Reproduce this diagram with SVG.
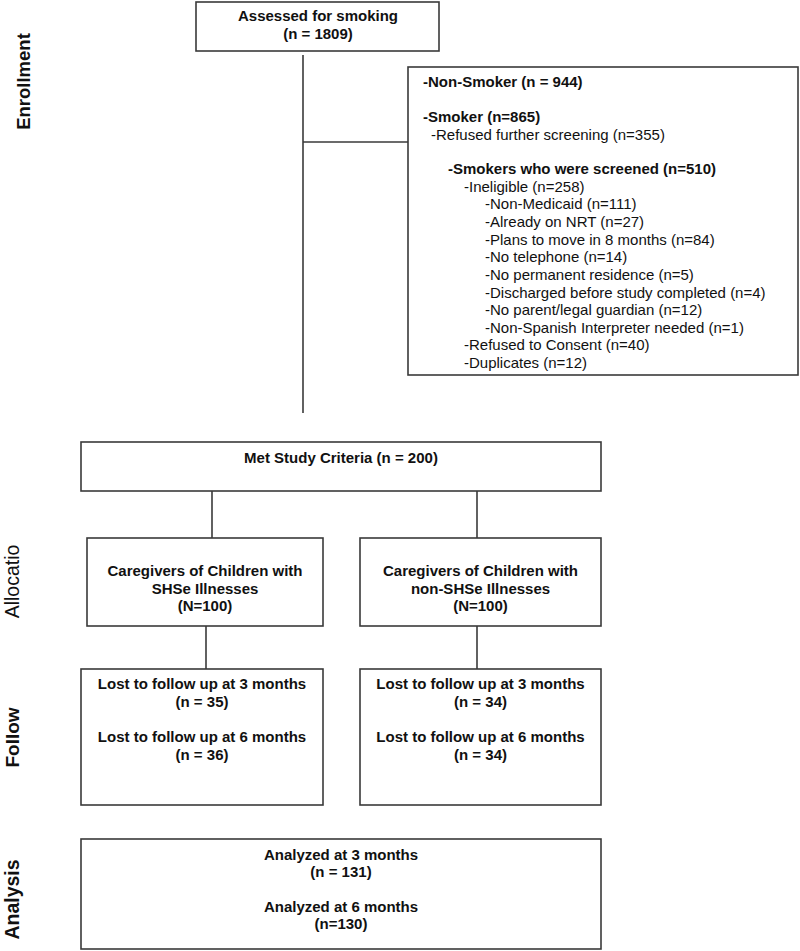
<svg xmlns="http://www.w3.org/2000/svg" width="800" height="951" viewBox="0 0 800 951">
<style>
  .box { fill: #ffffff; stroke: #3a3a3a; stroke-width: 1.6; }
  .ln { stroke: #3a3a3a; stroke-width: 1.6; fill: none; }
  text { font-family: "Liberation Sans", Arial, sans-serif; fill: #111111; }
  .b { font-weight: bold; font-size: 15px; }
  .r { font-size: 15px; }
  .c { text-anchor: middle; }
  .side { font-weight: bold; text-anchor: middle; }
</style>
<rect width="800" height="951" fill="#ffffff"/>

<g id="labels">
  <text class="side" font-size="18.5" transform="translate(30,81.5) rotate(-90)">Enrollment</text>
  <text text-anchor="middle" font-size="19.5" transform="translate(19,581.5) rotate(-90)">Allocatio</text>
  <text class="side" font-size="19" transform="translate(19,737.5) rotate(-90)">Follow</text>
  <text class="side" font-size="19.5" transform="translate(19,899.5) rotate(-90)">Analysis</text>
</g>

<g id="connectors">
  <line class="ln" x1="303" y1="55" x2="303" y2="413"/>
  <line class="ln" x1="303" y1="142" x2="408" y2="142"/>
  <line class="ln" x1="212" y1="491" x2="212" y2="538"/>
  <line class="ln" x1="477" y1="491" x2="477" y2="538"/>
  <line class="ln" x1="206" y1="626" x2="206" y2="669"/>
  <line class="ln" x1="477" y1="626" x2="477" y2="669"/>
</g>

<g id="assessed">
  <rect class="box" x="196" y="2" width="243" height="49"/>
  <text class="b c" x="318" y="21">Assessed for smoking</text>
  <text class="b c" x="318" y="39">(n = 1809)</text>
</g>

<g id="excluded">
  <rect class="box" x="408" y="67" width="390" height="308"/>
  <text class="b" x="423" y="87">-Non-Smoker (n = 944)</text>
  <text class="b" x="423" y="122">-Smoker (n=865)</text>
  <text class="r" x="431" y="140">-Refused further screening (n=355)</text>
  <text class="b" x="448" y="174">-Smokers who were screened (n=510)</text>
  <text class="r" x="464" y="192">-Ineligible (n=258)</text>
  <text class="r" x="485" y="209">-Non-Medicaid (n=111)</text>
  <text class="r" x="485" y="227">-Already on NRT (n=27)</text>
  <text class="r" x="485" y="244.5">-Plans to move in 8 months (n=84)</text>
  <text class="r" x="485" y="262">-No telephone (n=14)</text>
  <text class="r" x="485" y="280">-No permanent residence (n=5)</text>
  <text class="r" x="485" y="297.5">-Discharged before study completed (n=4)</text>
  <text class="r" x="485" y="315">-No parent/legal guardian (n=12)</text>
  <text class="r" x="485" y="332.5">-Non-Spanish Interpreter needed (n=1)</text>
  <text class="r" x="464" y="350">-Refused to Consent (n=40)</text>
  <text class="r" x="464" y="367.5">-Duplicates (n=12)</text>
</g>

<g id="met">
  <rect class="box" x="81" y="442" width="520" height="49"/>
  <text class="b c" x="341" y="463">Met Study Criteria (n = 200)</text>
</g>

<g id="alloc-shse">
  <rect class="box" x="87" y="538" width="236" height="88"/>
  <text class="b c" x="205" y="576">Caregivers of Children with</text>
  <text class="b c" x="205" y="593.5">SHSe Illnesses</text>
  <text class="b c" x="205" y="611">(N=100)</text>
</g>

<g id="alloc-non">
  <rect class="box" x="360" y="538" width="241" height="88"/>
  <text class="b c" x="480.5" y="576">Caregivers of Children with</text>
  <text class="b c" x="480.5" y="593.5">non-SHSe Illnesses</text>
  <text class="b c" x="480.5" y="611">(N=100)</text>
</g>

<g id="follow-shse">
  <rect class="box" x="81" y="669" width="242" height="136"/>
  <text class="b c" x="202" y="689">Lost to follow up at 3 months</text>
  <text class="b c" x="202" y="707">(n = 35)</text>
  <text class="b c" x="202" y="742">Lost to follow up at 6 months</text>
  <text class="b c" x="202" y="760">(n = 36)</text>
</g>

<g id="follow-non">
  <rect class="box" x="360" y="669" width="241" height="136"/>
  <text class="b c" x="480.5" y="689">Lost to follow up at 3 months</text>
  <text class="b c" x="480.5" y="707">(n = 34)</text>
  <text class="b c" x="480.5" y="742">Lost to follow up at 6 months</text>
  <text class="b c" x="480.5" y="760">(n = 34)</text>
</g>

<g id="analysis">
  <rect class="box" x="81" y="839" width="520" height="110"/>
  <text class="b c" x="341" y="860">Analyzed at 3 months</text>
  <text class="b c" x="341" y="877">(n = 131)</text>
  <text class="b c" x="341" y="912">Analyzed at 6 months</text>
  <text class="b c" x="341" y="929">(n=130)</text>
</g>
</svg>
